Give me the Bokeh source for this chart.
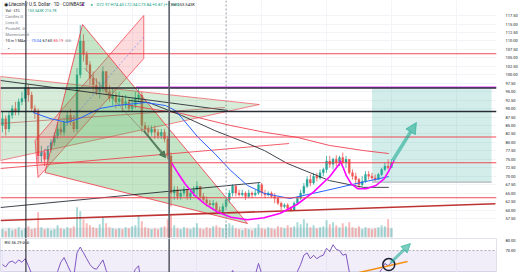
from bokeh.plotting import figure
from bokeh.models import (Range1d, FixedTicker, PrintfTickFormatter, Span, Label, Arrow,
                          NormalHead, BoxAnnotation, ColumnDataSource)
from bokeh.layouts import column
from bokeh.embed import file_html
from bokeh.resources import INLINE

# ---------------- data (daily bars, LTC/USD) ----------------
first_open = 85
close_ = [87, 84, 88, 90, 89, 92, 93, 96, 94, 90,
          89, 76, 77, 75, 78, 80, 82, 84, 83, 86,
          88, 86, 84, 100, 110, 106, 103, 99, 97, 95,
          96, 101, 95, 93, 94, 92, 93, 91, 92, 90,
          91, 93, 94, 85, 84, 83, 84, 83, 82, 83,
          81, 76, 65, 66, 64, 65, 66, 64, 65, 66,
          67, 64, 63, 62, 61.5, 62, 60, 59.5, 61, 63,
          65, 67, 65, 64.5, 65, 64, 65, 64.5, 65, 67.5,
          65, 64.5, 65, 64, 63.5, 62, 61, 61.5, 60.5, 60,
          62, 63.5, 65, 67, 69, 68, 70, 69.5, 71, 72,
          74.5, 73.5, 75, 74, 75.5, 74, 75, 71, 70, 69,
          67.5, 68.5, 70.5, 70, 69.5, 69, 70.5, 72, 73, 72.5,
          73.8]
high_ = [89, 88, 89, 91, 92, 93, 95, 97, 97, 95,
         91, 90, 79, 78, 79, 81, 83, 86, 86, 87,
         89, 90, 88, 102, 114.7, 112, 107, 104, 101, 99,
         98, 102.5, 101, 97, 96, 95, 95, 94, 94, 93,
         93, 95, 96, 95, 86, 85, 85, 85, 84, 84,
         84, 82, 77, 67, 67, 66, 67, 66, 66, 67,
         68.5, 67, 65, 64, 63, 63, 62.5, 61, 62, 64,
         66, 67.6, 67.5, 66, 66, 65.5, 66, 65.5, 66, 68,
         68, 66, 65.5, 65.5, 65, 64, 62.5, 62, 62, 61,
         62.5, 64, 66, 68, 70, 70.5, 71, 71, 72, 72.5,
         76, 76, 75.5, 76.2, 76, 77, 76, 75, 72, 71,
         69.5, 70, 71.5, 71.5, 71, 70.5, 71, 72.5, 74, 75,
         75]
low_ = [83, 82, 83, 87, 88, 88, 91, 92, 92, 89,
        87, 74, 74, 73, 74, 77, 79, 81, 82, 82,
        85, 85, 83, 83, 99, 104, 101, 97, 95, 94,
        93, 95, 94, 92, 91, 90, 91, 89, 90, 89,
        89, 90, 92, 83, 83, 82, 82, 81, 81, 81,
        80, 75, 61, 63, 63, 63, 64, 63, 63, 64,
        64, 63, 62, 61, 60.5, 60, 59.5, 58.7, 59, 60.5,
        62, 64, 64, 64, 64, 63, 63.5, 63.5, 64, 64.5,
        64, 63.5, 64, 63.5, 62, 61.5, 60, 60.5, 60, 59.6,
        59.8, 61.5, 63, 64.5, 66.5, 67, 67.5, 68.5, 69, 70,
        71, 72.5, 72, 73, 73, 73.5, 72.5, 70.5, 69, 67.5,
        66.5, 67, 68, 69, 69, 68.5, 69, 70, 71.5, 72,
        72.5]
volume = [8, 6, 9, 7, 8, 10, 7, 9, 11, 8,
          9, 25, 10, 8, 9, 7, 8, 12, 9, 8,
          10, 9, 11, 30, 26, 18, 14, 12, 10, 9,
          13, 20, 14, 10, 9, 8, 9, 8, 10, 9,
          11, 12, 22, 16, 10, 9, 8, 9, 8, 10,
          11, 18, 22, 12, 9, 8, 10, 9, 8, 10,
          14, 9, 8, 10, 9, 11, 12, 10, 9, 13,
          14, 12, 9, 8, 7, 9, 8, 7, 9, 13,
          9, 8, 10, 9, 8, 11, 10, 9, 12, 10,
          11, 15, 13, 18, 14, 10, 12, 9, 10, 11,
          17, 13, 15, 12, 10, 14, 11, 15, 10, 9,
          11, 8, 10, 9, 8, 9, 10, 12, 11, 18,
          9]
rsi = [58, 56, 60, 61, 59, 62, 60, 63, 57, 50,
       47, 30, 33, 31, 36, 40, 44, 52, 60, 64,
       58, 52, 48, 68, 73, 68, 63, 58, 55, 54,
       58, 62, 53, 48, 50, 47, 49, 46, 49, 46,
       48, 54, 57, 38, 36, 35, 37, 36, 35, 37,
       34, 28, 20, 23, 22, 24, 26, 24, 26, 28,
       32, 28, 27, 26, 25, 27, 24, 23, 30, 38,
       45, 53, 48, 46, 48, 45, 48, 46, 49, 59,
       50, 48, 49, 46, 44, 40, 38, 40, 38, 37,
       46, 52, 58, 66, 68, 63, 66, 63, 65, 66,
       72, 69, 75, 71, 70, 66, 67, 52, 48, 45,
       42, 45, 49, 48, 47, 46, 50, 54, 59, 57,
       60]

# moving averages (bar index, price)
ma_blue_x = [9.45, 14.6, 19.8, 23.8, 29.9, 35.1, 44.2, 50.3, 53.4, 55.2, 60.4, 65.5, 70.4, 75.6, 80.8, 88.7, 100.0, 109.1, 119.2]
ma_blue_y = [88.85, 87.1, 85.9, 87.1, 90.0, 90.9, 91.8, 90.9, 89.4, 87.4, 81.45, 76.7, 71.7, 67.25, 64.9, 63.4, 65.8, 67.8, 69.9]
ma_black_x = [39.0, 45.1, 55.2, 65.5, 75.6, 80.8, 87.8, 100.9, 111.3, 119.2]
ma_black_y = [92.4, 91.8, 88.0, 83.5, 79.7, 77.6, 73.8, 68.7, 66.7, 66.7]
ma_red_x = [39.0, 45.1, 55.2, 70.4, 80.8, 90.9, 100.9, 111.3, 119.2]
ma_red_y = [91.0, 90.0, 88.55, 85.0, 83.0, 81.5, 79.1, 77.6, 76.7]

# drawings (bar index, price)
big_tri_x = [13.11, 24.70, 75.61]
big_tri_y = [71.10, 114.88, 56.01]
pennant_x = [-0.61, 79.27, -0.61]
pennant_y = [99.50, 91.21, 74.65]
channel_x = [10.06, 43.60, 43.60, 10.98]
channel_y = [80.56, 117.54, 104.82, 69.62]
channel_mid = (10.67, 75.09, 43.60, 111.18)
hlines = [(106.21, "#f23645"), (96.09, "#131722"), (89.14, "#131722"),
          (81.60, "#f23645"), (73.96, "#f23645"), (63.61, "#f23645")]
magenta_level = (41.2, 96.38)
trendlines = [(-0.61, 56.89, 152.13, 61.83, "#b71c1c", 1.6, 0.9),
              (-0.61, 98.31, 69.51, 89.44, "#131722", 1.0, 0.8),
              (-0.61, 60.74, 79.57, 68.14, "#131722", 1.0, 0.8),
              (-0.61, 72.28, 88.41, 79.67, "#f23645", 1.0, 0.8),
              (-0.61, 85.59, 68.60, 90.33, "#b5524a", 1.0, 0.6),
              (25.30, 102.0, 52.10, 74.40, "#8d6e63", 1.0, 0.6)]
cup1_x = [52.23, 54.27, 56.31, 59.36, 62.41, 66.46, 70.52, 75.61, 80.70, 85.76, 90.85, 95.95, 101.01, 104.57]
cup1_y = [73.85, 70.71, 67.75, 64.29, 61.83, 59.35, 57.87, 57.10, 57.69, 59.05, 61.63, 65.27, 69.91, 74.44]
cup2_x = [104.05, 105.09, 106.1, 107.62, 109.66, 112.2, 115.24, 117.77, 119.3, 120.82]
cup2_y = [74.65, 72.66, 70.18, 67.75, 66.27, 66.27, 67.25, 69.23, 71.69, 74.65]
position_box = (114.02, 150.91, 68.22, 95.86)
arrow_main = (120.43, 74.65, 127.74, 85.89)
arrow_dark = (43.6, 83.52, 50.3, 75.53)
vlines = [(7.23, "#131722", 1.0, None), (51.43, "#5d606b", 1.6, None), (69.0, "#9598a1", 1.0, "2 2")]
rsi_trend = (110.06, 51.2, 125.0, 60.6)
rsi_circle = (119.2, 58.0)
rsi_arrow = (119.8, 59.7, 125.9, 76.0)

price_ticks = [57.5, 60, 62.5, 65, 67.5, 70, 72.5, 75, 77.5, 80, 82.5, 85, 87.5, 90, 92.5,
               95, 97.5, 100, 102.5, 105, 107.5, 110, 112.5, 115, 117.5]
rsi_ticks = [50, 70, 80]
price_tags = [(106.21, "#f23645", "106.20"), (98.61, "#e040fb", "98.60"), (97.43, "#089981", "97.43"),
              (96.24, "#131722", "96.11"), (89.14, "#131722", "89.14"), (81.60, "#f23645", "81.65"),
              (76.33, "#f7525f", "76.73"), (74.05, "#f23645", "74.13"), (72.87, "#f23645", "73.84"),
              (71.89, "#f23645", "05:03:12"), (69.91, "#2962ff", "70.04"), (68.43, "#787b86", "68.22"),
              (67.25, "#f23645", "67.20"), (66.15, "#131722", "66.17"), (63.49, "#f77c80", "63.44")]

# ---------------- build ----------------
FONT = "Roboto"
GREEN, RED = "#26a69a", "#ef5350"
n = len(close_)
bars = list(range(n))
opens = [first_open] + close_[:-1]
cols = [GREEN if c >= o else RED for o, c in zip(opens, close_)]
src = ColumnDataSource(dict(x=bars, o=opens, c=close_, h=high_, l=low_, col=cols, vol=volume, rsi=rsi))

X0, X1 = -0.61, 152.44
p = figure(width=520, height=238, x_range=Range1d(X0, X1), y_range=Range1d(51.57, 121.98),
           x_axis_location=None, y_axis_location="right", output_backend="svg",
           toolbar_location=None, min_border_left=0, min_border_top=0, min_border_bottom=0,
           min_border_right=18)
p.outline_line_color = None
p.xgrid.grid_line_color = "#f2f4f8"
p.ygrid.grid_line_color = "#f2f4f8"
p.ygrid.ticker = FixedTicker(ticks=price_ticks)
ax = p.yaxis[0]
ax.ticker = FixedTicker(ticks=price_ticks)
ax.formatter = PrintfTickFormatter(format="%.2f")
ax.major_label_text_font_size = "4px"
ax.major_label_text_font = FONT
ax.major_label_text_color = "#131722"
ax.major_tick_line_color = None
ax.minor_tick_line_color = None
ax.axis_line_color = None
ax.major_label_standoff = 3

# volume (own scale at the bottom)
p.extra_y_ranges = {"vol": Range1d(-1.3, 236.7)}
p.quad(left=[X0], right=[120.5], bottom=[0], top=[9.5], y_range_name="vol",
       fill_color="#d1d4dc", fill_alpha=0.45, line_color=None)
p.vbar(x="x", top="vol", bottom=0, width=0.6, source=src, y_range_name="vol",
       fill_color="col", line_color=None, fill_alpha=0.4)

# position box
l_, r_, b_, t_ = position_box
p.quad(left=[l_], right=[r_], bottom=[b_], top=[t_], fill_color="#22ab94", fill_alpha=0.2, line_color=None)
p.segment(x0=[l_], y0=[b_], x1=[r_], y1=[b_], line_color="#b2b5be", line_width=1.2)

# candles
p.segment(x0="x", y0="l", x1="x", y1="h", source=src, line_color="col", line_width=0.8)
p.vbar(x="x", top="o", bottom="c", width=0.62, source=src, fill_color="col", line_color="col", line_width=0.3)

# shapes
p.patch(pennant_x, pennant_y, fill_color="#4caf50", fill_alpha=0.22, line_color="#f23645", line_alpha=0.6, line_width=1)
p.patch(channel_x, channel_y, fill_color="#f23645", fill_alpha=0.18, line_color="#f23645", line_alpha=0.7, line_width=1)
p.patch(big_tri_x, big_tri_y, fill_color="#4caf50", fill_alpha=0.32, line_color="#f23645", line_alpha=0.8, line_width=1)
cx0, cy0, cx1, cy1 = channel_mid
p.line([cx0, cx1], [cy0, cy1], line_color="#2962ff", line_dash="2 2", line_width=0.8, line_alpha=0.6)

# trend lines
for x0, y0, x1, y1, c, w, a in trendlines:
    p.line([x0, x1], [y0, y1], line_color=c, line_width=w, line_alpha=a)

# horizontal levels
for lvl, c in hlines:
    p.add_layout(Span(location=lvl, dimension="width", line_color=c, line_width=1.3 if c == "#131722" else 1.1,
                      line_alpha=0.9))
mx, my = magenta_level
p.segment(x0=[mx], y0=[my], x1=[X1], y1=[my], line_color="#e040fb", line_width=1.2)

# moving averages
p.line(ma_red_x, ma_red_y, line_color="#f23645", line_width=1, line_alpha=0.85)
p.line(ma_black_x, ma_black_y, line_color="#131722", line_width=1, line_alpha=0.8)
p.line(ma_blue_x, ma_blue_y, line_color="#2962ff", line_width=1)

# cups
p.line(cup1_x, cup1_y, line_color="#ff00ff", line_width=1.6)
p.line(cup2_x, cup2_y, line_color="#ff00ff", line_width=1.6)

# vertical lines
for loc, c, w, d in vlines:
    kw = dict(line_dash=d) if d else {}
    p.add_layout(Span(location=loc, dimension="height", line_color=c, line_width=w, **kw))

# arrows
ax0, ay0, ax1, ay1 = arrow_main
p.add_layout(Arrow(x_start=ax0, y_start=ay0, x_end=ax1, y_end=ay1, line_color="#22ab94", line_width=3.5,
                   line_alpha=0.6, end=NormalHead(size=11, fill_color="#22ab94", fill_alpha=0.6,
                                                  line_color="#22ab94", line_alpha=0.6)))
dx0, dy0, dx1, dy1 = arrow_dark
p.add_layout(Arrow(x_start=dx0, y_start=dy0, x_end=dx1, y_end=dy1, line_color="#3d6e4b", line_width=2,
                   line_alpha=0.8, end=NormalHead(size=6, fill_color="#3d6e4b", fill_alpha=0.8,
                                                  line_color="#3d6e4b")))

# price tags on the scale
for price, c, txt in price_tags:
    p.add_layout(Label(x=502, y=price, x_units="screen", y_units="data", text=txt, text_font=FONT,
                       text_font_size="4px", text_color="white", background_fill_color=c,
                       text_baseline="middle", padding=1))
p.add_layout(Label(x=502, y=11.3, x_units="screen", y_units="screen", text="153.543K", text_font=FONT,
                   text_font_size="4px", text_color="white", background_fill_color="#787b86",
                   text_baseline="middle", padding=1))
p.add_layout(Label(x=502, y=6, x_units="screen", y_units="screen", text="33.45", text_font=FONT,
                   text_font_size="4px", text_color="white", background_fill_color="#131722",
                   text_baseline="middle", padding=1))
p.add_layout(Label(x=504, y=234, x_units="screen", y_units="screen", text="USD  ▾", text_font=FONT,
                   text_font_size="4px", text_color="#131722", text_baseline="middle"))

# legend texts (top left)
def tl(x, y, txt, color="#131722", size="3.8px"):
    p.add_layout(Label(x=x, y=238 - y, x_units="screen", y_units="screen", text=txt, text_font=FONT,
                       text_font_size=size, text_color=color, text_baseline="middle"))

tl(3, 4, "◉ Litecoin / U.S. Dollar · 1D · COINBASE", size="4.6px")
tl(81, 4, "■", "#9c27b0")
tl(90, 4, "●", "#089981")
tl(96, 4, "O72.97 H74.43 L72.34 C73.84 +0.87 (+1.19%)", "#089981", size="4.1px")
tl(170, 4, "Vol 153.543K", "#131722", size="4.1px")
tl(5, 10, "Vol · LTC", "#131722")
tl(27, 10, "153.543K  215.7K", "#089981")
tl(5, 16, "Candles  ⊘", "#787b86")
tl(5, 22, "Lines  ⊘", "#787b86")
tl(5, 28, "PivotsHL  ⊘", "#787b86")
tl(5, 34, "Momentum  ⊘", "#787b86")
tl(5, 40, "10 in 1 MAs", "#131722")
tl(31, 40, "70.04", "#2962ff")
tl(42, 40, "67.60", "#131722")
tl(53, 40, "85.19", "#f23645")
tl(64, 40, "⊘ ⊘", "#787b86")
tl(6, 46.5, "⌄", "#131722")

# ---------------- RSI pane ----------------
r = figure(width=520, height=34, x_range=p.x_range, y_range=Range1d(51.24, 80.3),
           x_axis_location=None, y_axis_location="right", output_backend="svg",
           toolbar_location=None, min_border_left=0, min_border_top=0, min_border_bottom=0,
           min_border_right=18)
r.outline_line_color = "#e0e3eb"
r.xgrid.grid_line_color = "#f2f4f8"
r.ygrid.grid_line_color = None
ra = r.yaxis[0]
ra.ticker = FixedTicker(ticks=rsi_ticks)
ra.formatter = PrintfTickFormatter(format="%.2f")
ra.major_label_text_font_size = "4px"
ra.major_label_text_font = FONT
ra.major_label_text_color = "#131722"
ra.major_tick_line_color = None
ra.minor_tick_line_color = None
ra.axis_line_color = None
ra.major_label_standoff = 3
r.add_layout(BoxAnnotation(bottom=30, top=70, fill_color="#7e57c2", fill_alpha=0.1, line_color=None))
r.add_layout(Span(location=70, dimension="width", line_color="#9598a1", line_dash="2 2", line_width=0.8))
r.line("x", "rsi", source=src, line_color="#7e57c2", line_width=1)
tx0, ty0, tx1, ty1 = rsi_trend
r.line([tx0, tx1], [ty0, ty1], line_color="#ff9800", line_width=1.5)
r.scatter([rsi_circle[0]], [rsi_circle[1]], size=12, marker="circle", fill_color=None,
          line_color="#131722", line_width=1.5)
rx0, ry0, rx1, ry1 = rsi_arrow
r.add_layout(Arrow(x_start=rx0, y_start=ry0, x_end=rx1, y_end=ry1, line_color="#22ab94", line_width=3,
                   line_alpha=0.6, end=NormalHead(size=9, fill_color="#22ab94", fill_alpha=0.6,
                                                  line_color="#22ab94", line_alpha=0.6)))
for loc, c, w, d in vlines[:2]:
    r.add_layout(Span(location=loc, dimension="height", line_color=c, line_width=w))
r.add_layout(Label(x=502, y=56.29, x_units="screen", y_units="data", text="56.29", text_font=FONT,
                   text_font_size="4px", text_color="white", background_fill_color="#7e57c2",
                   text_baseline="middle", padding=1))
r.add_layout(Label(x=4, y=30, x_units="screen", y_units="screen", text="RSI  56.29  ⊘  ⊘", text_font=FONT,
                   text_font_size="4px", text_color="#131722", text_baseline="middle"))

layout = column(p, r, spacing=0)
open("out.html", "w").write(file_html(layout, INLINE))
